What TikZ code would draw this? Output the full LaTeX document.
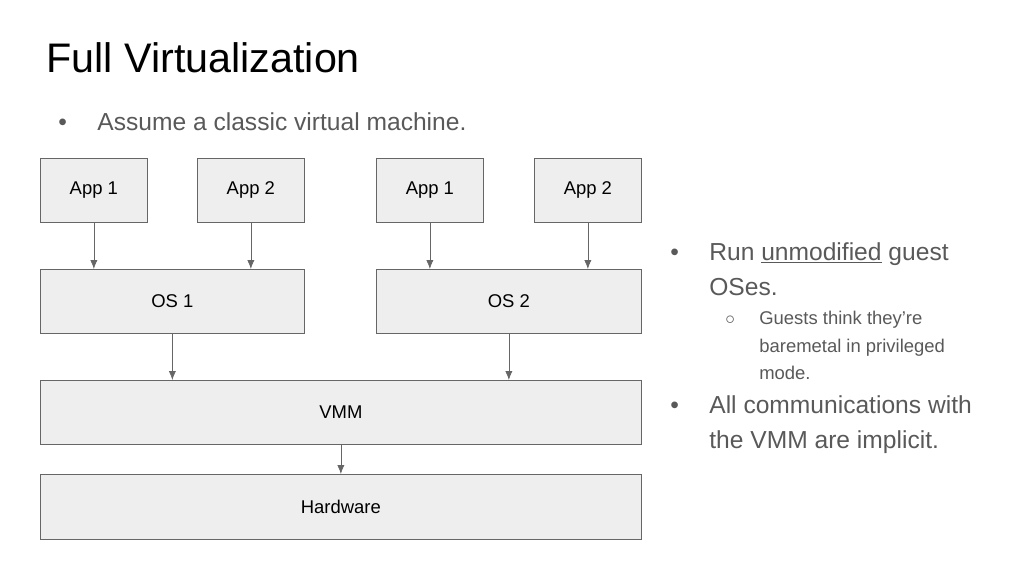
\documentclass[tikz,border=0pt]{standalone}
\usepackage{fontspec}
\setmainfont{Liberation Sans}
\usetikzlibrary{arrows.meta}
\definecolor{boxfill}{HTML}{EEEEEE}
\definecolor{boxline}{HTML}{666666}
\definecolor{txtgray}{HTML}{595959}
\tikzstyle{box} = [rectangle, draw=boxline, fill=boxfill, anchor=north west, inner sep=0pt, font=\fontsize{10.5}{12}\selectfont]
\tikzstyle{line} = [draw=boxline, -{Latex[length=5pt,width=4pt]}]
\tikzstyle{txt} = [anchor=base west, inner sep=0pt, text=txtgray, font=\fontsize{14}{20}\selectfont]
\tikzstyle{sub} = [anchor=base west, inner sep=0pt, text=txtgray, font=\fontsize{10.5}{15}\selectfont]

\begin{document}
\begin{tikzpicture}[x=0.02cm, y=-0.02cm]
		\useasboundingbox (0,0) rectangle (1024,576);
		
		% title and first bullet
		\node [anchor=base west, inner sep=0pt, font=\fontsize{23.5}{28}\selectfont] (title) at (46,72) {Full Virtualization};
		\node [txt] (b0) at (58,130) {\textbullet};
		\node [txt] (t0) at (97,130) {Assume a classic virtual machine.};
		
		% apps
		\node [box, minimum width=107*0.02cm, minimum height=64*0.02cm] (a11) at (40,158) {App 1};
		\node [box, minimum width=107*0.02cm, minimum height=64*0.02cm] (a12) at (197,158) {App 2};
		\node [box, minimum width=107*0.02cm, minimum height=64*0.02cm] (a21) at (376,158) {App 1};
		\node [box, minimum width=107*0.02cm, minimum height=64*0.02cm] (a22) at (534,158) {App 2};
		
		% guest OSes, VMM, hardware
		\node [box, minimum width=264*0.02cm, minimum height=64*0.02cm] (os1) at (40,269) {OS 1};
		\node [box, minimum width=265*0.02cm, minimum height=64*0.02cm] (os2) at (376,269) {OS 2};
		\node [box, minimum width=601*0.02cm, minimum height=64*0.02cm] (vmm) at (40,380) {VMM};
		\node [box, minimum width=601*0.02cm, minimum height=65*0.02cm] (hw) at (40,474) {Hardware};
		
		\path [line] (a11.south) to (a11.south |- os1.north);
		\path [line] (a12.south) to (a12.south |- os1.north);
		\path [line] (a21.south) to (a21.south |- os2.north);
		\path [line] (a22.south) to (a22.south |- os2.north);
		\path [line] (os1.south) to (os1.south |- vmm.north);
		\path [line] (os2.south) to (os2.south |- vmm.north);
		\path [line] (vmm.south) to (hw.north);
		
		% notes
		\node [txt] (b1) at (670,260) {\textbullet};
		\node [txt] (t1) at (709,260) {Run \underline{unmodified} guest};
		\node [txt] (t2) at (709,295) {OSes.};
		\node [sub] (b2) at (725,324) {$\circ$};
		\node [sub] (t3) at (759,324) {Guests think they're};
		\node [sub] (t4) at (759,352) {baremetal in privileged};
		\node [sub] (t5) at (759,379) {mode.};
		\node [txt] (b3) at (670,413) {\textbullet};
		\node [txt] (t6) at (709,413) {All communications with};
		\node [txt] (t7) at (709,448) {the VMM are implicit.};
		\end{tikzpicture}
\end{document}
